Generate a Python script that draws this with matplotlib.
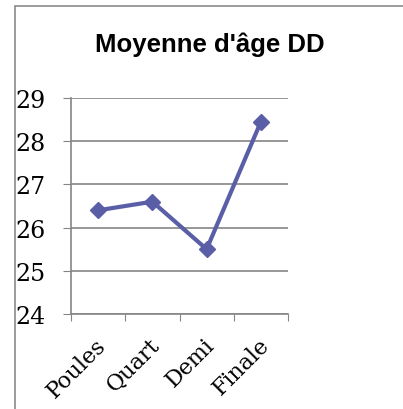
import matplotlib
matplotlib.use("Agg")
import matplotlib.pyplot as plt
import matplotlib.transforms as mtransforms
from matplotlib.patches import Rectangle

categories = ["Poules", "Quart", "Demi", "Finale"]
ages = [26.4, 26.6, 25.5, 28.45]
y_ticks = [24, 25, 26, 27, 28, 29]

line_color = "#5A5EA6"
grid_color = "#858585"

fig = plt.figure(figsize=(4.03, 4.10), dpi=100)

# outer chart frame (cropped at right and bottom)
fig.patches.append(Rectangle((15 / 403, -0.1), 1.2, 1 - 7 / 410 + 0.1,
                             transform=fig.transFigure, fill=False,
                             edgecolor="#8A8A8A", linewidth=1.2))

ax = fig.add_axes([71 / 403, 1 - 315 / 410, 217 / 403, 216 / 410])

x = range(len(categories))
ax.plot(x, ages, color=line_color, linewidth=3, marker="D", markersize=8,
        markerfacecolor=line_color, markeredgecolor=line_color)

ax.set_xlim(-0.5, len(categories) - 0.5)
ax.set_ylim(24, 29)
ax.set_yticks(y_ticks)
ax.set_yticklabels([str(t) for t in y_ticks], fontsize=17,
                   fontfamily="DejaVu Serif")
ax.yaxis.grid(True, color=grid_color, linewidth=1.2)
ax.set_axisbelow(True)

ax.set_xticks([i - 0.5 for i in range(len(categories) + 1)])
ax.set_xticklabels([])
ax.set_xticks(list(x), minor=True)
ax.set_xticklabels(categories, minor=True, rotation=45, ha="right",
                   va="top", fontsize=16, fontfamily="DejaVu Serif",
                   rotation_mode="anchor")
ax.tick_params(axis="x", which="minor", length=0, pad=14)
ax.tick_params(axis="x", which="major", length=5, color=grid_color,
               direction="out")
ax.tick_params(axis="y", length=6, color=grid_color, direction="out", pad=12)

shift = mtransforms.ScaledTranslation(-3 / 100, 0, fig.dpi_scale_trans)
for lab in ax.get_xticklabels(minor=True):
    lab.set_transform(lab.get_transform() + shift)

for side in ["top", "right"]:
    ax.spines[side].set_visible(False)
for side in ["left", "bottom"]:
    ax.spines[side].set_color(grid_color)
    ax.spines[side].set_linewidth(1.2)

fig.text(210 / 403, 1 - 45 / 410, "Moyenne d'âge DD", ha="center",
         va="center", fontsize=18.5, fontweight="bold",
         fontfamily="Liberation Sans")

fig.savefig("out.png", dpi=100)
